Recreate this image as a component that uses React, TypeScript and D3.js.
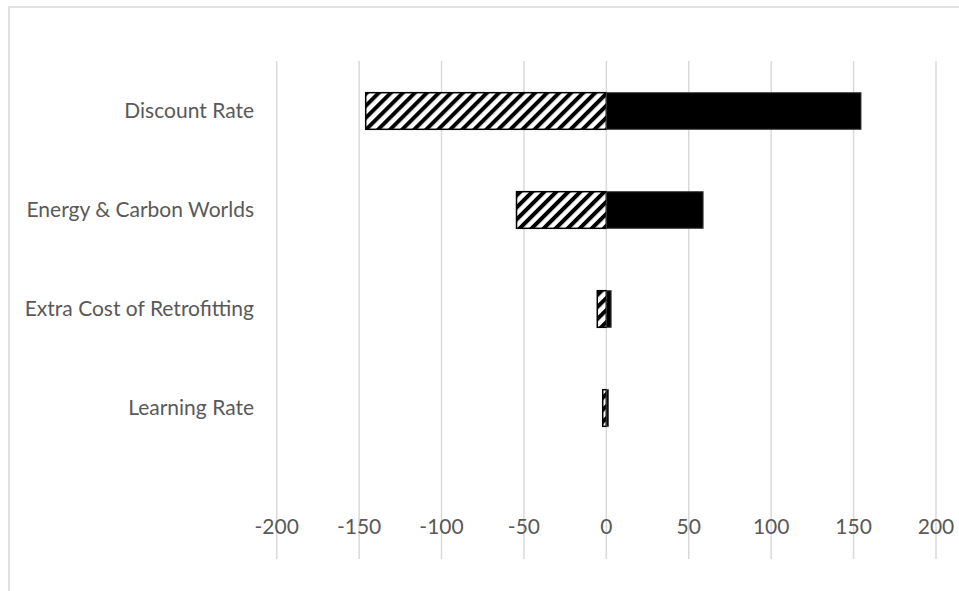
import React from "react";
import * as d3 from "d3";

const categories = ["Discount Rate", "Energy & Carbon Worlds", "Extra Cost of Retrofitting", "Learning Rate"];
const lowValues = [-146, -54.5, -5.5, -2.2];
const highValues = [154.5, 58.7, 2.9, 1.2];
const tickValues = [-200, -150, -100, -50, 0, 50, 100, 150, 200];

const W = 959;
const H = 591;

export default function App() {
  const x = d3.scaleLinear().domain([-200, 200]).range([276.7, 936]);
  const y = d3.scaleBand<string>().domain(categories).range([61.5, 457.5]).paddingInner(0.63).paddingOuter(0.315);
  const font = "Lato, 'Open Sans', sans-serif";
  const gridTop = 61;
  const gridBottom = 559;
  return (
    <svg width={W} height={H} style={{ position: "absolute", left: 0, top: 0, background: "#fff" }}>
      <defs>
        <pattern id="hatch" patternUnits="userSpaceOnUse" width="8.5" height="8.5" patternTransform="rotate(45)">
          <rect x="0" y="0" width="8.5" height="8.5" fill="#fff" />
          <rect x="0" y="0" width="4" height="8.5" fill="#000" />
        </pattern>
      </defs>
      <rect x={0} y={0} width={W} height={H} fill="#fff" />
      <rect x={9} y={7} width={W + 20} height={H + 20} fill="none" stroke="#d9d9d9" strokeWidth={1.5} />
      {tickValues.map((t) => (
        <line key={"g" + t} x1={x(t)} x2={x(t)} y1={gridTop} y2={gridBottom} stroke="#d9d9d9" strokeWidth={1.5} />
      ))}
      {categories.map((c, i) => (
        <g key={c}>
          <rect
            x={x(lowValues[i])}
            y={y(c)!}
            width={x(0) - x(lowValues[i])}
            height={y.bandwidth()}
            fill="url(#hatch)"
            stroke="#000"
            strokeWidth={1.5}
          />
          <rect
            x={x(0)}
            y={y(c)!}
            width={x(highValues[i]) - x(0)}
            height={y.bandwidth()}
            fill="#000"
            stroke="#404040"
            strokeWidth={1}
          />
          <text
            x={254}
            y={y(c)! + y.bandwidth() / 2}
            dy="0.35em"
            textAnchor="end"
            fontFamily={font}
            fontSize={21}
            fill="#595959"
          >
            {c}
          </text>
        </g>
      ))}
      {tickValues.map((t) => (
        <text key={"t" + t} x={x(t)} y={534} textAnchor="middle" fontFamily={font} fontSize={21} fill="#595959">
          {t}
        </text>
      ))}
    </svg>
  );
}
